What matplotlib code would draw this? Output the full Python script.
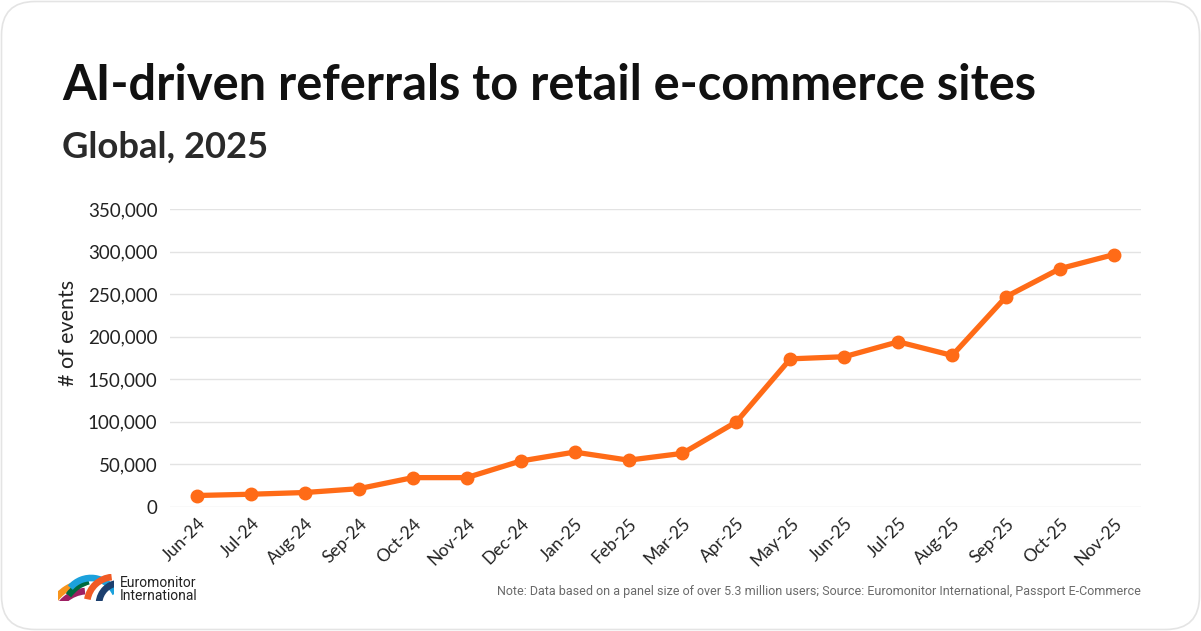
import numpy as np
import matplotlib
matplotlib.use('Agg')
import matplotlib.pyplot as plt
from matplotlib.patches import FancyBboxPatch, Arc, Rectangle
from matplotlib.ticker import FuncFormatter

plt.rcParams['font.family'] = ['Lato', 'DejaVu Sans']

months = ['Jun-24', 'Jul-24', 'Aug-24', 'Sep-24', 'Oct-24', 'Nov-24', 'Dec-24',
          'Jan-25', 'Feb-25', 'Mar-25', 'Apr-25', 'May-25', 'Jun-25', 'Jul-25',
          'Aug-25', 'Sep-25', 'Oct-25', 'Nov-25']
events = [13500, 15000, 17000, 21500, 34500, 34500, 54000,
          64500, 55000, 63000, 100000, 174000, 176500, 194000,
          178000, 247000, 280000, 296500]
y_ticks = [0, 50000, 100000, 150000, 200000, 250000, 300000, 350000]

TITLE = 'AI-driven referrals to retail e-commerce sites'
SUBTITLE = 'Global, 2025'
NOTE = ('Note: Data based on a panel size of over 5.3 million users; '
        'Source: Euromonitor International, Passport E-Commerce')

W, H = 1201, 631
fig = plt.figure(figsize=(W / 100, H / 100), dpi=100)
fig.patch.set_facecolor('white')

# rounded card border (kept behind everything)
card = FancyBboxPatch((1.5 / W, 1.5 / H), (W - 3) / W, (H - 3) / H,
                      boxstyle='round,pad=0,rounding_size=0.028',
                      transform=fig.transFigure, facecolor='none',
                      edgecolor='#e4e4e4', linewidth=1.2, mutation_aspect=W / H,
                      zorder=-10)
fig.patches.append(card)

ax = fig.add_axes([170 / W, 1 - 507 / H, (1141 - 170) / W, (507 - 209) / H])
ax.set_facecolor('none')
x = np.arange(len(months))
ax.plot(x, events, color='#ff6b17', linewidth=3.8, marker='o',
        markersize=9, solid_capstyle='round', zorder=3, clip_on=False)

ax.set_xlim(-0.5, len(months) - 0.5)
ax.set_ylim(0, 350000)
ax.set_yticks(y_ticks)
ax.yaxis.set_major_formatter(FuncFormatter(lambda v, p: f'{int(v):,}'))
ax.set_xticks(x)
ax.set_xticklabels(months, rotation=45, ha='right', rotation_mode='anchor')
ax.grid(axis='y', color='#e3e3e3', linewidth=1.0)
ax.set_axisbelow(True)
for s in ax.spines.values():
    s.set_visible(False)
ax.tick_params(axis='both', length=0, colors='#222222')
ax.tick_params(axis='y', pad=9, labelsize=13.5)
ax.tick_params(axis='x', pad=6, labelsize=12.5)

fig.text(68 / W, 1 - 333 / H, '# of events', rotation=90, ha='center',
         va='center', fontsize=15.5, color='#222222')

t = fig.text(62 / W, 1 - 85 / H, TITLE, fontsize=33, fontweight='bold',
             color='#111111', va='center', ha='left')
st = fig.text(62 / W, 1 - 147 / H, SUBTITLE, fontsize=22, fontweight='bold',
              color='#2a2a2a', va='center', ha='left')
note = fig.text(1141 / W, 1 - 592 / H, NOTE, ha='right', va='center', fontsize=8.3,
                color='#6a6a6a', family=['Roboto', 'DejaVu Sans'])

# fit title, subtitle and note widths to reference
fig.canvas.draw()
r = fig.canvas.get_renderer()
for txt, target in ((t, 1037 - 62), (st, 267 - 62), (note, 1141 - 500)):
    w = txt.get_window_extent(r).width
    txt.set_fontsize(txt.get_fontsize() * target / w)

# logo: overlapping coloured arcs, 1 data unit = 1 px
lax = fig.add_axes([58 / W, 1 - 601 / H, 56 / W, 27 / H])
lax.set_xlim(0, 56)
lax.set_ylim(0, 27)
lax.axis('off')
arc_specs = [  # centre, radius, theta1, theta2, colour
    ((30, -25), 35, 95, 165, '#9e1f63'),
    ((32, -25), 44, 95, 150, '#f7941d'),
    ((40, -15), 36, 105, 145, '#00693e'),
    ((33, -4), 27, 25, 140, '#1ba1dc'),
    ((56, -3), 27, 95, 170, '#f15a24'),
    ((62, -3), 21, 95, 175, '#1c3f6e'),
]
clip = Rectangle((0, 0), 56, 27, transform=lax.transData)
for (cx, cy), rad, t1, t2, col in arc_specs:
    a = Arc((cx, cy), 2 * rad, 2 * rad, theta1=t1, theta2=t2, color=col,
            linewidth=4.8, capstyle='butt')
    lax.add_patch(a)
    a.set_clip_path(clip)

fig.text(120 / W, 1 - 583 / H, 'Euromonitor', fontsize=10, color='#222222',
         va='center', ha='left', family=['Roboto', 'DejaVu Sans'])
fig.text(120 / W, 1 - 596 / H, 'International', fontsize=10, color='#222222',
         va='center', ha='left', family=['Roboto', 'DejaVu Sans'])

fig.savefig('out.png', dpi=100, facecolor='white')
